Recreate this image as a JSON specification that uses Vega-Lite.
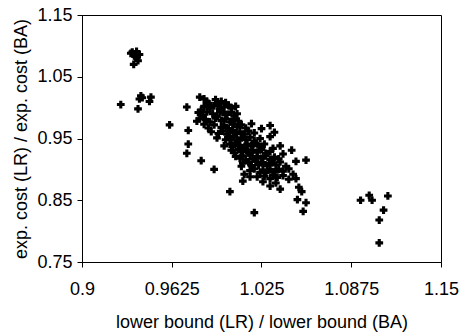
{
  "$schema": "https://vega.github.io/schema/vega-lite/v6.json",
  "autosize": "none",
  "padding": {"left": 82, "top": 15, "right": 18, "bottom": 74},
  "width": 359,
  "height": 247,
  "background": "white",
  "config": {
    "view": {"stroke": "black", "strokeWidth": 1},
    "font": "Liberation Sans",
    "axis": {"grid": false, "domainColor": "black", "tickColor": "black", "labelColor": "black", "titleColor": "black", "labelFont": "Liberation Sans", "titleFont": "Liberation Sans", "labelFontSize": 18, "titleFontSize": 18, "titleFontWeight": "normal", "tickSize": 5, "labelOverlap": false, "labelFlush": false}
  },
  "data": {"values": [
    {"x": 0.935, "y": 1.090}, {"x": 0.938, "y": 1.091}, {"x": 0.940, "y": 1.086}, {"x": 0.937, "y": 1.083}, {"x": 0.939, "y": 1.076}, {"x": 0.936, "y": 1.070}, {"x": 0.934, "y": 1.088}, {"x": 0.938, "y": 1.080},
    {"x": 0.927, "y": 1.005}, {"x": 0.939, "y": 0.998}, {"x": 0.941, "y": 1.019}, {"x": 0.940, "y": 1.014}, {"x": 0.942, "y": 1.016}, {"x": 0.948, "y": 1.017}, {"x": 0.947, "y": 1.010},
    {"x": 0.961, "y": 0.972}, {"x": 0.973, "y": 1.001}, {"x": 0.974, "y": 0.963}, {"x": 0.974, "y": 0.941}, {"x": 0.973, "y": 0.926}, {"x": 0.983, "y": 0.914}, {"x": 0.992, "y": 0.900}, {"x": 1.003, "y": 0.864}, {"x": 1.020, "y": 0.830},
    {"x": 1.031, "y": 0.971}, {"x": 1.025, "y": 0.966}, {"x": 1.034, "y": 0.960}, {"x": 1.031, "y": 0.953}, {"x": 1.038, "y": 0.938}, {"x": 1.046, "y": 0.931}, {"x": 1.056, "y": 0.915}, {"x": 1.033, "y": 0.934}, {"x": 1.040, "y": 0.925}, {"x": 1.049, "y": 0.913}, {"x": 1.042, "y": 0.905},
    {"x": 1.022, "y": 0.888}, {"x": 1.024, "y": 0.895}, {"x": 1.031, "y": 0.885}, {"x": 1.031, "y": 0.873}, {"x": 1.038, "y": 0.868}, {"x": 1.049, "y": 0.885}, {"x": 1.051, "y": 0.871}, {"x": 1.053, "y": 0.864}, {"x": 1.050, "y": 0.851}, {"x": 1.056, "y": 0.846}, {"x": 1.054, "y": 0.832},
    {"x": 1.094, "y": 0.850}, {"x": 1.100, "y": 0.858}, {"x": 1.102, "y": 0.850}, {"x": 1.113, "y": 0.857}, {"x": 1.110, "y": 0.834}, {"x": 1.107, "y": 0.818}, {"x": 1.107, "y": 0.781},
    {"x": 0.982, "y": 1.017}, {"x": 0.985, "y": 1.014}, {"x": 0.987, "y": 1.010}, {"x": 0.988, "y": 1.007}, {"x": 0.990, "y": 1.003}, {"x": 0.993, "y": 1.013}, {"x": 0.997, "y": 1.010}, {"x": 1.000, "y": 1.008}, {"x": 0.995, "y": 1.005},
    {"x": 0.985, "y": 1.002}, {"x": 0.989, "y": 0.999}, {"x": 0.992, "y": 1.003}, {"x": 0.996, "y": 0.998}, {"x": 0.999, "y": 1.001}, {"x": 1.002, "y": 1.004}, {"x": 1.004, "y": 0.999}, {"x": 1.007, "y": 1.002}, {"x": 0.983, "y": 0.996},
    {"x": 0.981, "y": 0.992}, {"x": 0.984, "y": 0.988}, {"x": 0.987, "y": 0.993}, {"x": 0.991, "y": 0.990}, {"x": 0.994, "y": 0.986}, {"x": 0.998, "y": 0.992}, {"x": 1.001, "y": 0.989}, {"x": 1.004, "y": 0.993}, {"x": 1.008, "y": 0.990}, {"x": 1.006, "y": 0.986}, {"x": 0.996, "y": 0.994},
    {"x": 0.980, "y": 0.978}, {"x": 0.982, "y": 0.982}, {"x": 0.986, "y": 0.981}, {"x": 0.989, "y": 0.977}, {"x": 0.993, "y": 0.983}, {"x": 0.997, "y": 0.979}, {"x": 1.000, "y": 0.982}, {"x": 1.003, "y": 0.977}, {"x": 1.006, "y": 0.981}, {"x": 1.009, "y": 0.978}, {"x": 1.018, "y": 0.974},
    {"x": 0.985, "y": 0.973}, {"x": 0.988, "y": 0.967}, {"x": 0.992, "y": 0.972}, {"x": 0.997, "y": 0.968}, {"x": 0.999, "y": 0.971}, {"x": 1.002, "y": 0.966}, {"x": 1.005, "y": 0.973}, {"x": 1.008, "y": 0.969}, {"x": 1.011, "y": 0.972}, {"x": 1.014, "y": 0.967},
    {"x": 0.990, "y": 0.961}, {"x": 0.995, "y": 0.958}, {"x": 0.998, "y": 0.962}, {"x": 1.001, "y": 0.957}, {"x": 1.003, "y": 0.960}, {"x": 1.005, "y": 0.963}, {"x": 1.007, "y": 0.958}, {"x": 1.010, "y": 0.961}, {"x": 1.013, "y": 0.957}, {"x": 1.016, "y": 0.962}, {"x": 1.020, "y": 0.959},
    {"x": 0.994, "y": 0.951}, {"x": 1.000, "y": 0.948}, {"x": 1.002, "y": 0.952}, {"x": 1.004, "y": 0.949}, {"x": 1.006, "y": 0.953}, {"x": 1.008, "y": 0.947}, {"x": 1.011, "y": 0.951}, {"x": 1.014, "y": 0.948}, {"x": 1.017, "y": 0.952}, {"x": 1.020, "y": 0.946}, {"x": 1.024, "y": 0.950},
    {"x": 0.999, "y": 0.938}, {"x": 1.003, "y": 0.941}, {"x": 1.005, "y": 0.937}, {"x": 1.007, "y": 0.942}, {"x": 1.010, "y": 0.939}, {"x": 1.012, "y": 0.935}, {"x": 1.015, "y": 0.941}, {"x": 1.018, "y": 0.938}, {"x": 1.021, "y": 0.942}, {"x": 1.024, "y": 0.937}, {"x": 1.027, "y": 0.941},
    {"x": 1.004, "y": 0.931}, {"x": 1.006, "y": 0.927}, {"x": 1.009, "y": 0.932}, {"x": 1.011, "y": 0.929}, {"x": 1.014, "y": 0.933}, {"x": 1.016, "y": 0.927}, {"x": 1.019, "y": 0.931}, {"x": 1.022, "y": 0.928}, {"x": 1.025, "y": 0.932}, {"x": 1.028, "y": 0.926}, {"x": 1.031, "y": 0.929},
    {"x": 1.007, "y": 0.921}, {"x": 1.010, "y": 0.918}, {"x": 1.012, "y": 0.922}, {"x": 1.014, "y": 0.915}, {"x": 1.017, "y": 0.923}, {"x": 1.019, "y": 0.917}, {"x": 1.022, "y": 0.921}, {"x": 1.025, "y": 0.918}, {"x": 1.028, "y": 0.922}, {"x": 1.031, "y": 0.916}, {"x": 1.034, "y": 0.920}, {"x": 1.037, "y": 0.917},
    {"x": 1.012, "y": 0.910}, {"x": 1.011, "y": 0.905}, {"x": 1.016, "y": 0.912}, {"x": 1.018, "y": 0.906}, {"x": 1.021, "y": 0.913}, {"x": 1.023, "y": 0.907}, {"x": 1.026, "y": 0.911}, {"x": 1.029, "y": 0.906}, {"x": 1.032, "y": 0.911}, {"x": 1.035, "y": 0.907}, {"x": 1.038, "y": 0.912},
    {"x": 1.017, "y": 0.898}, {"x": 1.020, "y": 0.901}, {"x": 1.026, "y": 0.899}, {"x": 1.028, "y": 0.895}, {"x": 1.031, "y": 0.900}, {"x": 1.034, "y": 0.896}, {"x": 1.037, "y": 0.900}, {"x": 1.040, "y": 0.897}, {"x": 1.044, "y": 0.901},
    {"x": 1.013, "y": 0.892}, {"x": 1.017, "y": 0.888}, {"x": 1.012, "y": 0.881}, {"x": 1.027, "y": 0.889}, {"x": 1.033, "y": 0.891}, {"x": 1.036, "y": 0.887}, {"x": 1.040, "y": 0.890},
    {"x": 1.026, "y": 0.880}, {"x": 1.035, "y": 0.878}, {"x": 1.044, "y": 0.884}, {"x": 1.047, "y": 0.892}
  ]},
  "mark": {"type": "point", "shape": "cross", "filled": true, "color": "black", "size": 60, "opacity": 1},
  "encoding": {
    "x": {"field": "x", "type": "quantitative", "title": "lower bound (LR) / lower bound (BA)",
      "scale": {"domain": [0.9, 1.15], "zero": false, "nice": false},
      "axis": {"values": [0.9, 0.9625, 1.025, 1.0875, 1.15], "format": ".5~g", "labelPadding": 13, "titlePadding": 15}},
    "y": {"field": "y", "type": "quantitative", "title": "exp. cost (LR) / exp. cost (BA)",
      "scale": {"domain": [0.75, 1.15], "zero": false, "nice": false},
      "axis": {"values": [0.75, 0.85, 0.95, 1.05, 1.15], "format": ".2f", "labelPadding": 5, "titlePadding": 6}}
  }
}
